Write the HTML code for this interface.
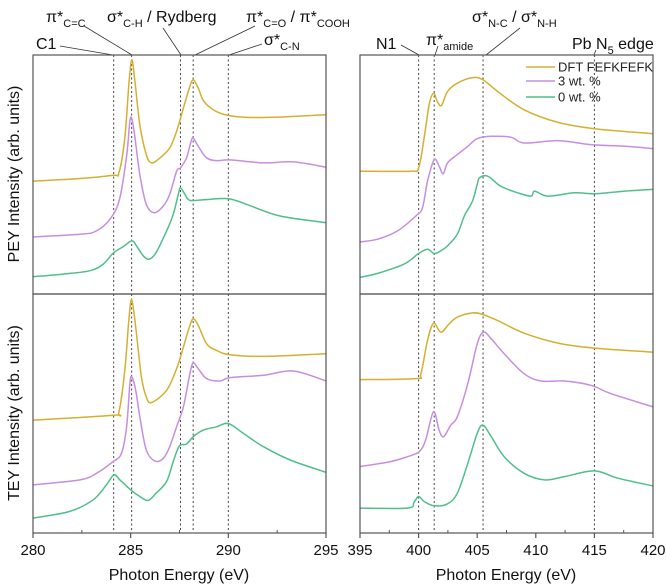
<!DOCTYPE html>
<html><head><meta charset="utf-8"><style>
html,body{margin:0;padding:0;background:#fff;}
svg{display:block;font-family:"Liberation Sans",Arial,sans-serif;}
</style></head><body>
<svg id="chart" width="666" height="585" viewBox="0 0 666 585" xmlns="http://www.w3.org/2000/svg">
<g id="annotations" fill="#111" font-size="16">
<text x="46" y="22">π*<tspan font-size="11" dy="5">C=C</tspan></text>
<text x="107" y="22">σ*<tspan font-size="11" dy="5">C-H</tspan><tspan dy="-5"> / Rydberg</tspan></text>
<text x="246" y="22">π*<tspan font-size="11" dy="5">C=O</tspan><tspan dy="-5"> / π*</tspan><tspan font-size="11" dy="5">COOH</tspan></text>
<text x="36" y="49">C1</text>
<text x="264" y="45">σ*<tspan font-size="11" dy="5">C-N</tspan></text>
<text x="376" y="49">N1</text>
<text x="426" y="45">π*<tspan font-size="11" dy="5">amide</tspan></text>
<text x="472" y="22">σ*<tspan font-size="11" dy="5">N-C</tspan><tspan dy="-5"> / σ*</tspan><tspan font-size="11" dy="5">N-H</tspan></text>
<text x="572" y="49">Pb N<tspan font-size="11" dy="5">5</tspan><tspan dy="-5"> edge</tspan></text>
<g stroke="#333" stroke-width="0.8" fill="none">
<line x1="60" y1="46" x2="113" y2="55"/>
<line x1="84" y1="26" x2="132" y2="55"/>
<line x1="163" y1="28" x2="181" y2="55"/>
<line x1="255" y1="26" x2="195" y2="55"/>
<line x1="262" y1="44" x2="229" y2="55"/>
<line x1="401" y1="45" x2="419" y2="55"/>
<line x1="438" y1="46" x2="435" y2="55"/>
<line x1="520" y1="28" x2="486" y2="55"/>
<line x1="596" y1="50" x2="594" y2="55"/>
</g>
</g>
<text x="0" y="0" font-size="16" fill="#111" text-anchor="middle" transform="translate(19,174) rotate(-90)">PEY Intensity (arb. units)</text>
<text x="0" y="0" font-size="16" fill="#111" text-anchor="middle" transform="translate(19,413) rotate(-90)">TEY Intensity (arb. units)</text>
<text x="179" y="580" font-size="16" fill="#111" text-anchor="middle">Photon Energy (eV)</text>
<text x="506" y="580" font-size="16" fill="#111" text-anchor="middle">Photon Energy (eV)</text>
<g id="plots"></g>
<g id="legend" font-size="13" fill="#222">
<line x1="526" y1="67" x2="555" y2="67" stroke="#d4b030" stroke-width="1.5"/>
<text x="558" y="71.5">DFT FEFKFEFK</text>
<line x1="526" y1="81" x2="555" y2="81" stroke="#c68ee0" stroke-width="1.5"/>
<text x="558" y="85.5">3 wt. %</text>
<line x1="526" y1="97" x2="555" y2="97" stroke="#4fbf8a" stroke-width="1.5"/>
<text x="558" y="101.5">0 wt. %</text>
</g>
</svg>
<script>
const cTicks = [280, 285, 290, 295];
const nTicks = [395, 400, 405, 410, 415, 420];
const cMarkers = [284.13, 285.05, 287.55, 288.2, 290.0];
const nMarkers = [400.0, 401.33, 405.5, 415.0];
const peyCdft = [[280,340],[282.4,348],[284.1,358],[284.4,365],[284.7,470],[284.92,640],[285.06,705],[285.2,650],[285.47,510],[285.8,420],[286.07,395],[286.5,410],[287.0,440],[287.35,490],[287.7,560],[288.0,620],[288.2,645],[288.46,620],[288.7,585],[289.06,562],[289.57,545],[290.09,537],[290.94,532],[292.65,533],[295,540]];
const peyC3wt = [[280,172],[282.4,180],[283.25,190],[284.0,230],[284.45,290],[284.8,420],[284.96,520],[285.06,528],[285.2,480],[285.47,360],[285.8,270],[286.2,245],[286.67,265],[287.0,300],[287.35,370],[287.55,380],[287.86,410],[288.07,455],[288.2,470],[288.46,445],[288.89,410],[289.4,402],[290.09,404],[291.8,395],[293.33,398],[295,382]];
const peyC0wt = [[280,52],[281.54,60],[282.9,70],[283.6,90],[284.1,123],[284.6,142],[285.06,160],[285.3,145],[285.64,115],[285.95,105],[286.3,125],[286.84,190],[287.18,240],[287.44,300],[287.55,320],[287.78,300],[288.03,282],[288.72,284],[290,287],[290.94,270],[292.65,235],[295,215]];
const teyCdft = [[280,340],[284.1,355],[284.4,365],[284.7,490],[284.92,650],[285.06,702],[285.26,620],[285.55,470],[285.8,410],[286.07,393],[286.84,430],[287.35,495],[287.7,560],[288.0,620],[288.2,645],[288.46,625],[288.89,570],[289.4,550],[290.09,537],[291.8,532],[295,540]];
const teyC3wt = [[280,145],[282.4,160],[283.25,180],[284.1,215],[284.53,240],[284.79,320],[284.96,450],[285.06,470],[285.26,430],[285.47,350],[285.8,250],[286.24,217],[286.67,225],[287.0,260],[287.35,320],[287.7,380],[288.03,480],[288.2,512],[288.46,495],[288.89,465],[289.57,458],[290.09,468],[291.8,475],[293.33,488],[295,458]];
const teyC0wt = [[280,45],[281.88,65],[283.08,100],[283.76,145],[284.14,175],[284.45,160],[285.06,127],[285.47,110],[285.9,98],[286.3,120],[286.84,155],[287.18,215],[287.49,262],[287.86,268],[288.2,290],[288.72,310],[289.4,320],[290,330],[290.77,300],[291.8,260],[293.16,220],[295,183]];
const peyNdft = [[395,370],[399.33,370],[400,380],[400.47,470],[400.9,570],[401.27,605],[401.6,580],[401.95,568],[402.47,610],[403.3,635],[404.6,652],[405.5,645],[406.75,610],[409.0,555],[411.9,517],[415,498],[420,483]];
const peyN3wt = [[395,157],[396.5,165],[398.2,190],[399.76,235],[400.33,260],[400.76,340],[401.33,405],[401.75,385],[402.1,362],[402.47,395],[403.3,420],[404.2,445],[405,468],[406.2,475],[407.9,472],[409,455],[411.9,462],[414.7,450],[417.6,445],[420,438]];
const peyN0wt = [[395,50],[396.5,62],[398.76,90],[400,122],[400.76,135],[401.33,122],[401.9,130],[402.47,145],[403.3,180],[403.9,235],[404.6,280],[405,330],[405.2,350],[405.9,355],[407,325],[408.45,305],[409.6,295],[409.9,310],[411,295],[413.3,305],[415,302],[417.6,310],[420,315]];
const teyNdft = [[395,462],[399.76,465],[400.2,480],[400.76,580],[401.27,632],[401.9,605],[402.6,630],[403.3,650],[404.6,663],[405.5,658],[406.75,640],[409,602],[411.9,572],[415,557],[420,545]];
const teyN3wt = [[395,200],[397.6,215],[399.05,230],[400.05,245],[400.6,280],[401.27,365],[401.75,310],[402.13,290],[402.75,325],[403.3,350],[404.2,450],[405,570],[405.55,605],[406.2,585],[407.3,540],[409,480],[410.45,458],[412.45,458],[414.7,445],[416.4,420],[420,380]];
const teyN0wt = [[395,75],[399.05,75],[399.6,92],[400,110],[400.47,95],[401.33,82],[402.47,88],[403.3,120],[404.2,210],[405,300],[405.5,325],[406.2,290],[407.3,230],[409,180],[410.75,160],[412.45,170],[415,187],[417,165],[420,142]];

const NS = 'http://www.w3.org/2000/svg';
const root = document.getElementById('plots');
const COLORS = {dft:'#d4b030', w3:'#c68ee0', w0:'#4fbf8a'};
const yMax = 720;
function mk(tag, attrs){const e=document.createElementNS(NS,tag);for(const k in attrs)e.setAttribute(k,attrs[k]);return e;}
function xScale(x0,x1,px0,px1){return v=>px0+(v-x0)/(x1-x0)*(px1-px0);}
function yScale(top,bot){return v=>bot-v/yMax*(bot-top);}
function smoothPath(P){
  let d='M'+P[0][0].toFixed(1)+','+P[0][1].toFixed(1);
  for(let i=0;i<P.length-1;i++){
    const p0=P[Math.max(0,i-1)],p1=P[i],p2=P[i+1],p3=P[Math.min(P.length-1,i+2)];
    const t=1/6;
    const c1x=p1[0]+(p2[0]-p0[0])*t, c1y=p1[1]+(p2[1]-p0[1])*t;
    const c2x=p2[0]-(p3[0]-p1[0])*t, c2y=p2[1]-(p3[1]-p1[1])*t;
    d+=' C'+c1x.toFixed(1)+','+c1y.toFixed(1)+' '+c2x.toFixed(1)+','+c2y.toFixed(1)+' '+p2[0].toFixed(1)+','+p2[1].toFixed(1);
  }
  return d;
}

const panels = [
 {name:'pey-carbon', x0:280,x1:295,px0:33,px1:326,top:55,bot:294,markers:cMarkers,series:[['dft',peyCdft],['w3',peyC3wt],['w0',peyC0wt]]},
 {name:'tey-carbon', x0:280,x1:295,px0:33,px1:326,top:294,bot:533,markers:cMarkers,series:[['dft',teyCdft],['w3',teyC3wt],['w0',teyC0wt]],ticks:cTicks},
 {name:'pey-nitrogen', x0:395,x1:420,px0:360,px1:653,top:55,bot:294,markers:nMarkers,series:[['dft',peyNdft],['w3',peyN3wt],['w0',peyN0wt]]},
 {name:'tey-nitrogen', x0:395,x1:420,px0:360,px1:653,top:294,bot:533,markers:nMarkers,series:[['dft',teyNdft],['w3',teyN3wt],['w0',teyN0wt]],ticks:nTicks}
];
panels.forEach(p=>{
  const X=xScale(p.x0,p.x1,p.px0,p.px1), Y=yScale(p.top,p.bot);
  const g=mk('g',{});
  
  
  root.appendChild(g);
  p.markers.forEach(m=>{
    const l=mk('line',{x1:X(m),x2:X(m),y1:p.top,y2:p.bot,stroke:'#444','stroke-width':1,'stroke-dasharray':'2,2.5'});
    
    
    g.appendChild(l);
  });
  p.series.forEach(([k,d])=>{
    const P=d.map(q=>[X(q[0]),Y(q[1])]);
    const pl=mk('path',{d:smoothPath(P),fill:'none',stroke:COLORS[k],'stroke-width':1.5,'stroke-linejoin':'round'});
    
    
    g.appendChild(pl);
  });
  const fr=mk('rect',{x:p.px0,y:p.top,width:p.px1-p.px0,height:p.bot-p.top,fill:'none',stroke:'#555','stroke-width':1.2});
  
  
  g.appendChild(fr);
  if(p.ticks){
    p.ticks.forEach((t,i)=>{
      const tk=mk('line',{x1:X(t),x2:X(t),y1:p.bot,y2:p.bot+5,stroke:'#555','stroke-width':1.2});
      
      
      g.appendChild(tk);
      if(i<p.ticks.length-1){
        const mid=(t+p.ticks[i+1])/2;
        const mt=mk('line',{x1:X(mid),x2:X(mid),y1:p.bot,y2:p.bot-3,stroke:'#555','stroke-width':1});
        
        
        g.appendChild(mt);
      }
      const tx=mk('text',{x:X(t),y:p.bot+22,'text-anchor':'middle','font-size':15,fill:'#111'});
      
      
      tx.textContent=t;
      g.appendChild(tx);
    });
  }
});
</script>
</body></html>
